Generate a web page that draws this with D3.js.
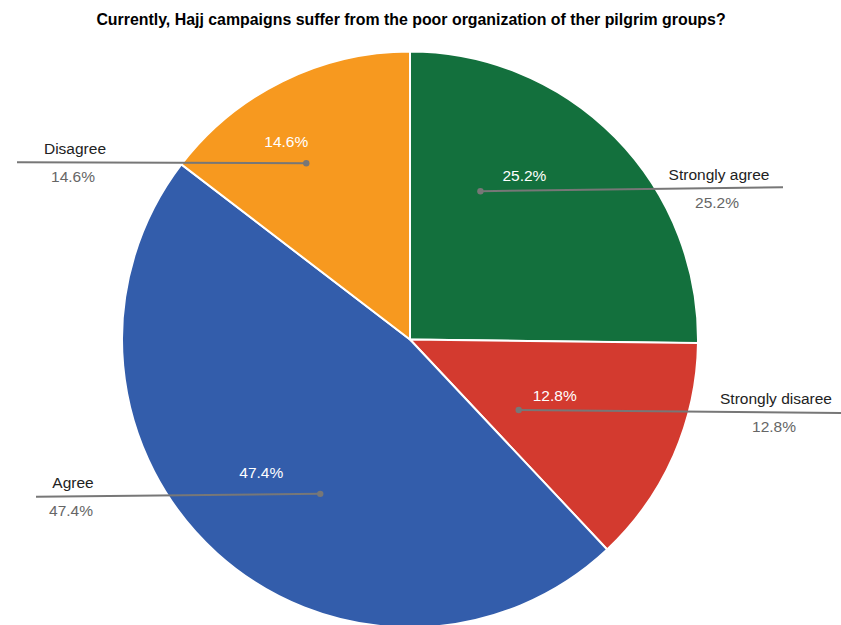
<!DOCTYPE html>
<html>
<head>
<meta charset="utf-8">
<script src="https://cdn.jsdelivr.net/npm/d3@7"></script>
<style>
  html, body { margin: 0; padding: 0; background: #fff; }
  svg { display: block; font-family: "Liberation Sans", Arial, sans-serif; }
</style>
</head>
<body>
<svg id="chart" width="841" height="625"></svg>
<script>
// Survey answers, in drawing order clockwise from 12 o'clock
const categories = ["Strongly agree", "Strongly disaree", "Agree", "Disagree"];
const shares = [25.2, 12.8, 47.4, 14.6];
const colors = ["#13703d", "#d33a2f", "#335dab", "#f7991f"];
const title = "Currently, Hajj campaigns suffer from the poor organization of ther pilgrim groups?";

// Leader layout per slice: where the dot sits inside the slice (fraction of the
// slice's angle, fraction of the radius) and where the outside label line ends.
const leaderAt = [0.28, 0.70, 0.43, 0.42];
const leaderRadius = [0.57, 0.45, 0.62, 0.71];
const lineEndX = [783, 841, 36, 17];
const lineEndDy = [-4, 3, 3, -1];
const labelX = [719, 776, 73, 75];
// offset of the white in-slice percentage from its dot
const innerDx = [44, 36, -59, -20];
const innerDy = [-16, -15, -21, -22];

const W = 841, H = 625;
const cx = 410, cy = 339.5, R = 288;
const svg = d3.select("#chart");

svg.append("text")
  .attr("x", 411).attr("y", 25)
  .attr("text-anchor", "middle")
  .attr("font-weight", "bold")
  .attr("font-size", 15.9)
  .attr("fill", "#000")
  .text(title);

const data = categories.map((c, i) => ({ name: c, value: shares[i], color: colors[i], i }));

const pie = d3.pie().value(d => d.value).sort(null);
const arcs = pie(data);
const arc = d3.arc().innerRadius(0).outerRadius(R);

const g = svg.append("g").attr("transform", `translate(${cx},${cy})`);

g.selectAll("path.slice")
  .data(arcs)
  .join("path")
  .attr("class", "slice")
  .attr("d", arc)
  .attr("fill", d => d.data.color)
  .attr("stroke", "#fff")
  .attr("stroke-width", 2);

const fs = 15.5;

// Leader lines with dots, inner percentages and outside labels
arcs.forEach(a => {
  const i = a.data.i;
  const ang = a.startAngle + (a.endAngle - a.startAngle) * leaderAt[i];
  const r = R * leaderRadius[i];
  const px = cx + r * Math.sin(ang);
  const py = cy - r * Math.cos(ang);
  const ex = lineEndX[i];
  const ey = py + lineEndDy[i];
  const pct = d3.format(".1f")(a.data.value) + "%";

  svg.append("line")
    .attr("x1", px).attr("y1", py)
    .attr("x2", ex).attr("y2", ey)
    .attr("stroke", "#777")
    .attr("stroke-width", 2);
  svg.append("circle")
    .attr("cx", px).attr("cy", py).attr("r", 3.2)
    .attr("fill", "#777");

  // white percentage inside the slice, just above the dot
  svg.append("text")
    .attr("x", px + innerDx[i]).attr("y", py + innerDy[i] + 5.5)
    .attr("text-anchor", "middle")
    .attr("font-size", fs)
    .attr("fill", "#fff")
    .text(pct);

  // category name above the line, percentage below
  const lx = labelX[i];
  const ly = py + (ey - py) * (lx - px) / (ex - px);
  svg.append("text")
    .attr("x", lx).attr("y", ly - 8)
    .attr("text-anchor", "middle")
    .attr("font-size", fs)
    .attr("fill", "#222")
    .text(a.data.name);
  svg.append("text")
    .attr("x", lx - 2).attr("y", ly + 19.5)
    .attr("text-anchor", "middle")
    .attr("font-size", fs)
    .attr("fill", "#666")
    .text(pct);
});
</script>
</body>
</html>
